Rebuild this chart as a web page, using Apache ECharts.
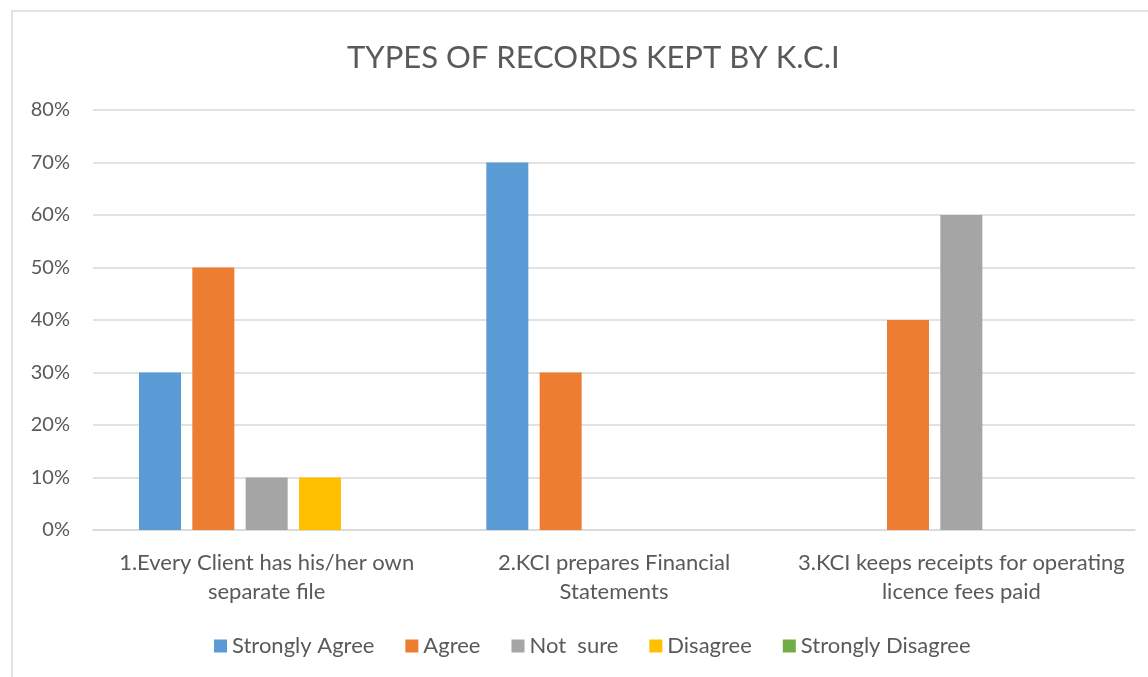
<!DOCTYPE html>
<html>
<head>
<meta charset="utf-8">
<script src="https://cdn.jsdelivr.net/npm/echarts@6/dist/echarts.min.js"></script>
<style>
html,body{margin:0;padding:0;background:#fff;}
#c{width:1148px;height:677px;}
</style>
</head>
<body>
<div id="c"></div>
<script>
var titleText = 'TYPES OF RECORDS KEPT BY K.C.I';
var categories = [
  '1.Every Client has his/her own\nseparate file',
  '2.KCI prepares Financial\nStatements',
  '3.KCI keeps receipts for operating\nlicence fees paid'
];
var seriesNames = ['Strongly Agree', 'Agree', 'Not  sure', 'Disagree', 'Strongly Disagree'];
var stronglyAgree = [30, 70, 0];
var agree = [50, 30, 40];
var notSure = [10, 0, 60];
var disagree = [10, 0, 0];
var stronglyDisagree = [0, 0, 0];
var colors = ['#5B9BD5', '#ED7D31', '#A5A5A5', '#FFC000', '#70AD47'];

var values = [stronglyAgree, agree, notSure, disagree, stronglyDisagree];
var font = 'Lato, "Open Sans", sans-serif';
var chart = echarts.init(document.getElementById('c'));
chart.setOption({
  animation: false,
  color: colors,
  title: {
    text: titleText, left: 342, top: 37,
    textStyle: { fontFamily: font, fontSize: 31, fontWeight: 'normal', color: '#595959' }
  },
  graphic: [{
    type: 'rect', shape: { x: 12, y: 11, width: 1160, height: 700 },
    style: { fill: 'none', stroke: '#D9D9D9', lineWidth: 1.5 }, silent: true
  }],
  legend: {
    bottom: 15, left: 209,
    itemWidth: 13, itemHeight: 13, itemGap: 31,
    icon: 'rect',
    textStyle: { fontFamily: font, fontSize: 22, color: '#595959', padding: [0, 0, 0, 0] },
    data: seriesNames
  },
  grid: { left: 93, right: 13, top: 110, bottom: 147 },
  xAxis: {
    type: 'category', data: categories,
    axisLine: { lineStyle: { color: '#D9D9D9', width: 1.5 } },
    axisTick: { show: false },
    axisLabel: { fontFamily: font, fontSize: 22, color: '#595959', margin: 18, lineHeight: 29, interval: 0 }
  },
  yAxis: {
    type: 'value', min: 0, max: 80, interval: 10,
    axisLine: { show: false }, axisTick: { show: false },
    splitLine: { lineStyle: { color: '#D9D9D9', width: 1.5 } },
    axisLabel: { fontFamily: font, fontSize: 20, color: '#595959', margin: 23, formatter: '{value}%' }
  },
  series: seriesNames.map(function (n, i) {
    return { name: n, type: 'bar', data: values[i], barWidth: 42, barGap: '27%' };
  })
});
</script>
</body>
</html>
